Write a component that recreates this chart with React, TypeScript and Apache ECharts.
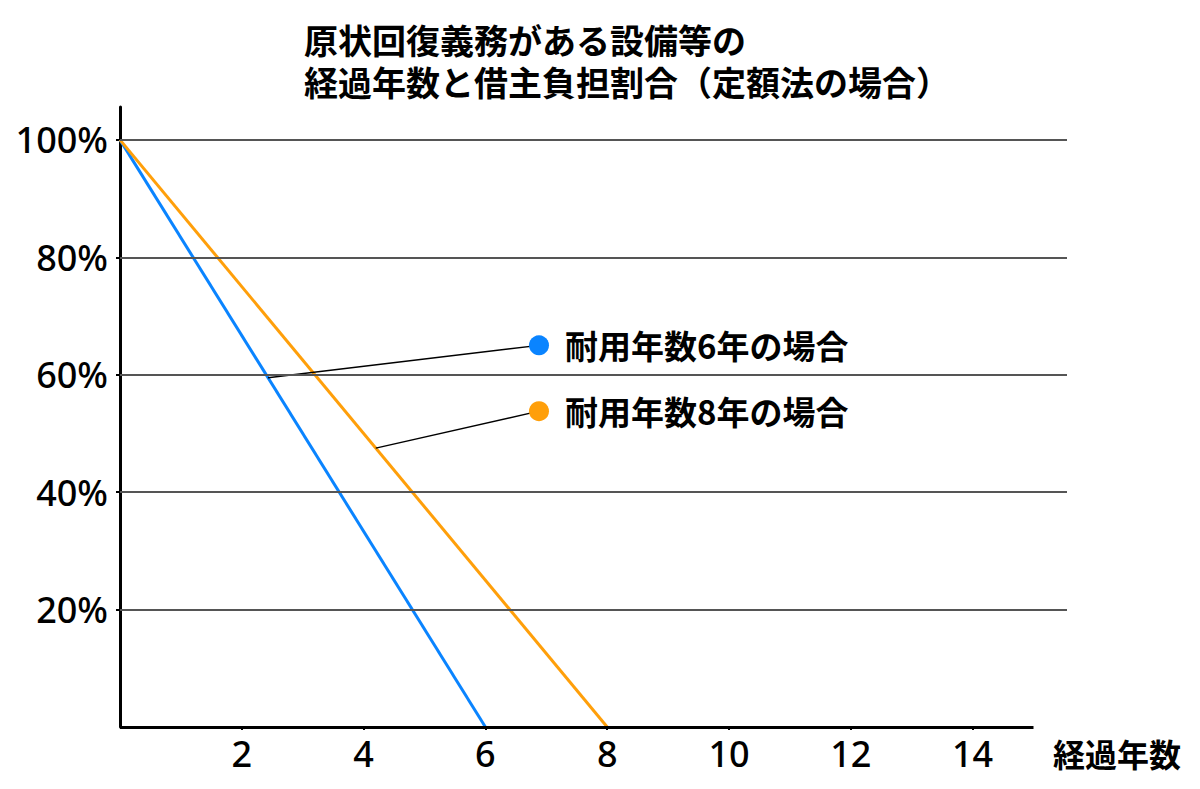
import React, { useEffect, useRef } from "react";
import * as echarts from "echarts";

const titleLines = ["原状回復義務がある設備等の", "経過年数と借主負担割合（定額法の場合）"];
const xAxisName = "経過年数";
const xTicks = [2, 4, 6, 8, 10, 12, 14];
const yTicks = [20, 40, 60, 80, 100];

const life6X = [0, 6];
const life6Y = [100, 0];
const life8X = [0, 8];
const life8Y = [100, 0];

const legendLabels = ["耐用年数6年の場合", "耐用年数8年の場合"];
const legendColors = ["#0A84FF", "#FF9F0A"];
const legendDotX = [6.88, 6.88];
const legendDotY = [65, 53.8];
const leaderFromX = [2.43, 4.2];
const leaderFromY = [59.5, 47.5];

const xMin = 0;
const xAxisEnd = 15;
const xMax = 15.55;
const yMin = 0;
const yMax = 105.6;

const numFont = "'Noto Sans', sans-serif";
const jpFont = "'Noto Sans CJK JP', sans-serif";

export default function App() {
  const ref = useRef<HTMLDivElement>(null);
  useEffect(() => {
    document.body.style.margin = "0";
    if (!ref.current) return;
    const chart = echarts.init(ref.current, undefined, { renderer: "svg" });
    const toPairs = (xs: number[], ys: number[]) => xs.map((x, i) => [x, ys[i]]);
    const option: any = {
      animation: false,
      backgroundColor: "#ffffff",
      title: {
        text: titleLines.join("\n"),
        left: 304,
        top: 18,
        padding: 0,
        textStyle: {
          fontFamily: jpFont,
          fontSize: 34,
          fontWeight: "bold",
          lineHeight: 42,
          color: "#000",
        },
      },
      grid: { left: 120, right: 133, top: 107, bottom: 62, containLabel: false },
      xAxis: {
        type: "value",
        min: xMin,
        max: xMax,
        axisLine: { show: false },
        splitLine: { show: false },
        axisTick: {
          show: true,
          customValues: xTicks,
          length: 3,
          lineStyle: { color: "#000", width: 2 },
        },
        axisLabel: {
          customValues: xTicks,
          fontFamily: numFont,
          fontSize: 36,
          fontWeight: 500,
          color: "#000",
          margin: 8,
        },
        name: xAxisName,
        nameLocation: "end",
        nameGap: -14,
        nameTextStyle: {
          fontFamily: jpFont,
          fontSize: 32,
          fontWeight: "bold",
          color: "#000",
          verticalAlign: "top",
          align: "left",
          padding: [10, 0, 0, 0],
        },
      },
      yAxis: {
        type: "value",
        min: yMin,
        max: yMax,
        axisLine: { show: true, lineStyle: { color: "#000", width: 3 } },
        splitLine: { show: false },
        axisTick: {
          show: true,
          customValues: yTicks,
          length: 4,
          lineStyle: { color: "#000", width: 2 },
        },
        axisLabel: {
          customValues: yTicks,
          formatter: "{value}%",
          fontFamily: numFont,
          fontSize: 36,
          fontWeight: 500,
          color: "#000",
          margin: 12,
        },
      },
      series: [
        {
          type: "line",
          name: "grid",
          data: [],
          z: 1,
          silent: true,
          markLine: {
            silent: true,
            symbol: ["none", "none"],
            label: { show: false },
            lineStyle: { color: "#555", width: 2, type: "solid" },
            data: yTicks.map((v) => ({ yAxis: v })),
          },
        },
        {
          type: "line",
          name: legendLabels[0],
          data: toPairs(life6X, life6Y),
          showSymbol: false,
          symbol: "none",
          z: 3,
          lineStyle: { color: legendColors[0], width: 3 },
          itemStyle: { color: legendColors[0] },
        },
        {
          type: "line",
          name: legendLabels[1],
          data: toPairs(life8X, life8Y),
          showSymbol: false,
          symbol: "none",
          z: 3,
          lineStyle: { color: legendColors[1], width: 3 },
          itemStyle: { color: legendColors[1] },
        },
        {
          type: "line",
          name: "xaxisline",
          data: [],
          z: 5,
          clip: false,
          silent: true,
          markLine: {
            silent: true,
            symbol: ["none", "none"],
            label: { show: false },
            lineStyle: { color: "#000", width: 3, type: "solid" },
            data: [[{ coord: [xMin, yMin] }, { coord: [xAxisEnd, yMin] }]],
          },
        },
        ...legendLabels.map((_, i) => ({
          type: "line",
          name: "leader" + i,
          data: [
            [leaderFromX[i], leaderFromY[i]],
            [legendDotX[i], legendDotY[i]],
          ],
          showSymbol: false,
          symbol: "none",
          z: 4,
          lineStyle: { color: "#000", width: 1.5 },
        })),
        {
          type: "scatter",
          name: "legendDots",
          z: 6,
          symbolSize: 20,
          data: legendLabels.map((t, i) => ({
            value: [legendDotX[i], legendDotY[i]],
            name: t,
            itemStyle: { color: legendColors[i], opacity: 1 },
          })),
          itemStyle: { opacity: 1 },
          label: {
            show: true,
            position: "right",
            distance: 16,
            formatter: (p: any) => p.name,
            fontFamily: jpFont,
            fontSize: 33,
            fontWeight: "bold",
            color: "#000",
          },
        },
      ],
    };
    chart.setOption(option);
    return () => chart.dispose();
  }, []);
  return <div ref={ref} style={{ width: 1200, height: 789 }} />;
}
